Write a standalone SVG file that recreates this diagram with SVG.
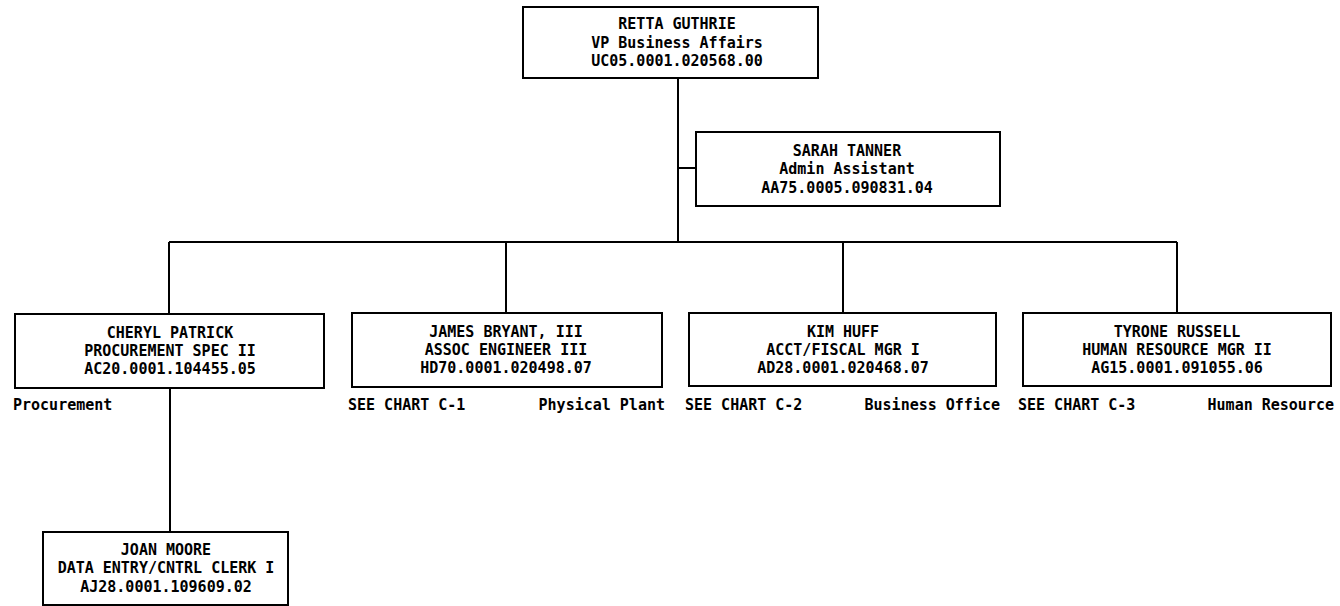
<svg xmlns="http://www.w3.org/2000/svg" width="1340" height="606" viewBox="0 0 1340 606">
<style>
.box{fill:#fff;stroke:#000;stroke-width:2}
.ln{stroke:#000;stroke-width:2;fill:none}
text{font-family:"DejaVu Sans Mono","Liberation Mono",monospace;font-size:15px;font-weight:bold;fill:#000}
.c{text-anchor:middle}
.e{text-anchor:end}
</style>
<rect width="1340" height="606" fill="#fff"/>
<g id="connectors">
<path class="ln" d="M678 79V242M678 168H696M169 242H1177M169 242V314M506 242V313M843 242V313M1177 242V313M170 388V532"/>
</g>
<g id="retta">
<rect class="box" x="523" y="7" width="295" height="71"/>
<text class="c" x="677" y="29">RETTA GUTHRIE</text>
<text class="c" x="677" y="48">VP Business Affairs</text>
<text class="c" x="677" y="66">UC05.0001.020568.00</text>
</g>
<g id="sarah">
<rect class="box" x="696" y="132" width="304" height="74"/>
<text class="c" x="847" y="156">SARAH TANNER</text>
<text class="c" x="847" y="174">Admin Assistant</text>
<text class="c" x="847" y="193">AA75.0005.090831.04</text>
</g>
<g id="cheryl">
<rect class="box" x="15" y="314" width="309" height="74"/>
<text class="c" x="170" y="338">CHERYL PATRICK</text>
<text class="c" x="170" y="356">PROCUREMENT SPEC II</text>
<text class="c" x="170" y="374">AC20.0001.104455.05</text>
<text x="13" y="410">Procurement</text>
</g>
<g id="james">
<rect class="box" x="352" y="313" width="310" height="74"/>
<text class="c" x="506" y="337">JAMES BRYANT, III</text>
<text class="c" x="506" y="355">ASSOC ENGINEER III</text>
<text class="c" x="506" y="373">HD70.0001.020498.07</text>
<text x="348" y="410">SEE CHART C-1</text>
<text class="e" x="665" y="410">Physical Plant</text>
</g>
<g id="kim">
<rect class="box" x="689" y="313" width="307" height="73"/>
<text class="c" x="843" y="337">KIM HUFF</text>
<text class="c" x="843" y="355">ACCT/FISCAL MGR I</text>
<text class="c" x="843" y="373">AD28.0001.020468.07</text>
<text x="685" y="410">SEE CHART C-2</text>
<text class="e" x="1000" y="410">Business Office</text>
</g>
<g id="tyrone">
<rect class="box" x="1023" y="313" width="308" height="73"/>
<text class="c" x="1177" y="337">TYRONE RUSSELL</text>
<text class="c" x="1177" y="355">HUMAN RESOURCE MGR II</text>
<text class="c" x="1177" y="373">AG15.0001.091055.06</text>
<text x="1018" y="410">SEE CHART C-3</text>
<text class="e" x="1334" y="410">Human Resource</text>
</g>
<g id="joan">
<rect class="box" x="43" y="532" width="245" height="73"/>
<text class="c" x="166" y="555">JOAN MOORE</text>
<text class="c" x="166" y="573">DATA ENTRY/CNTRL CLERK I</text>
<text class="c" x="166" y="592">AJ28.0001.109609.02</text>
</g>
</svg>
